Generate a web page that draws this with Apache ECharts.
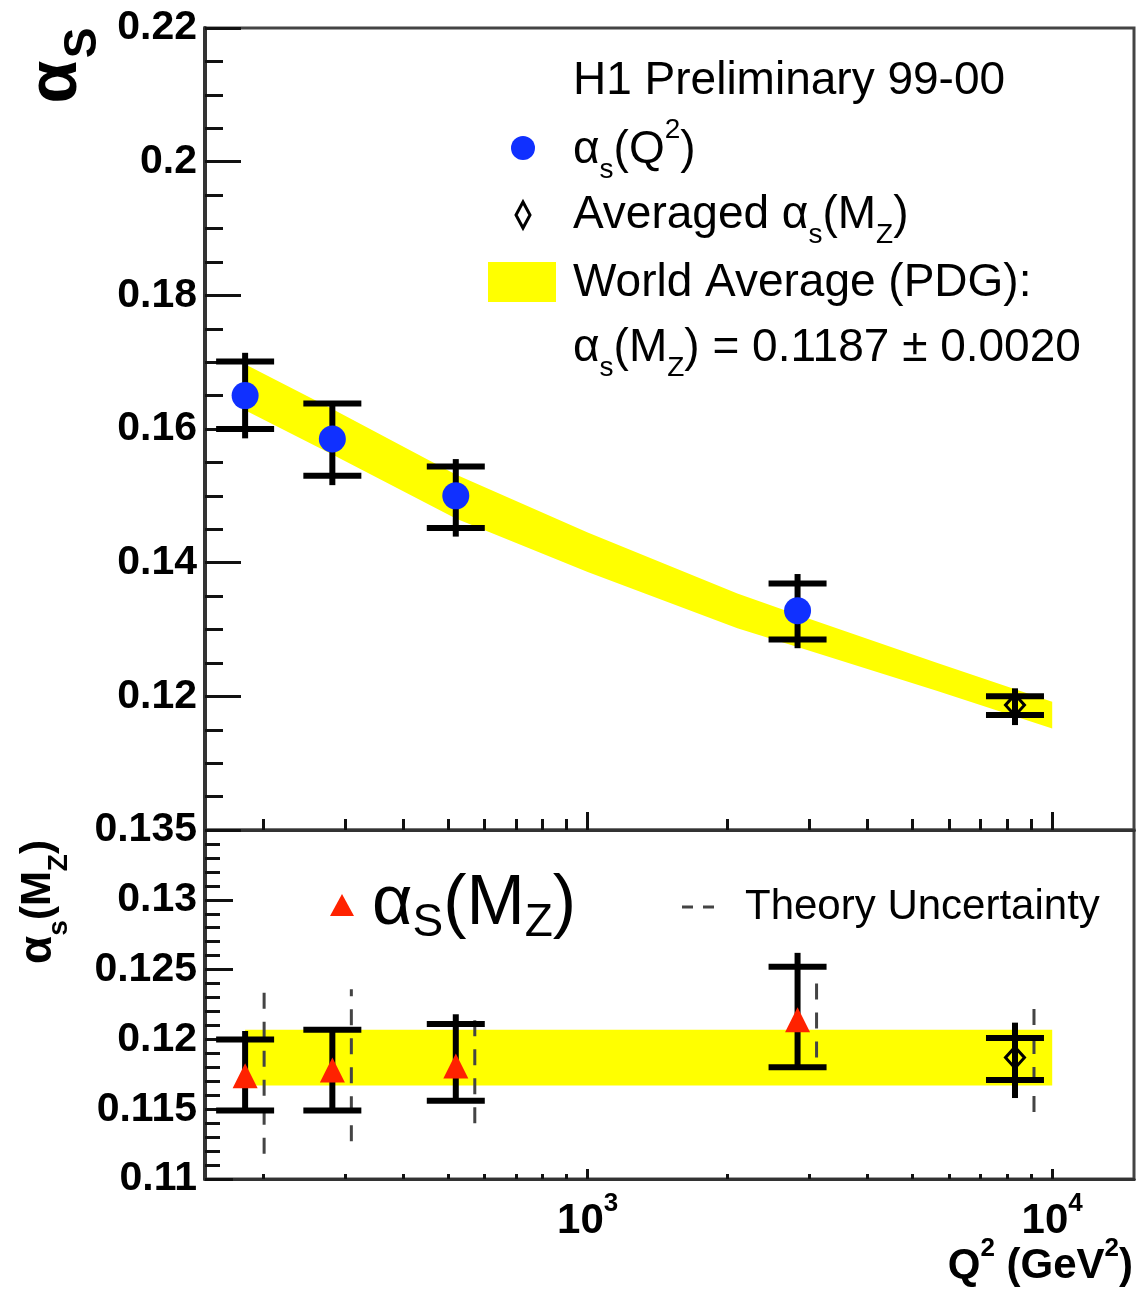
<!DOCTYPE html>
<html><head><meta charset="utf-8">
<script src="https://cdn.jsdelivr.net/npm/echarts@6/dist/echarts.min.js"></script>
<style>html,body{margin:0;padding:0;background:#fff}#c{width:1145px;height:1292px}</style>
</head><body><div id="c"></div>
<script>
// ---------- data ----------
const Q2_MEAS = [183, 282, 520, 2830];          // GeV^2
const Q2_AVG = [8315];
// top panel: alpha_s(Q^2)
const ALPHA_Q2          = [0.1650, 0.1585, 0.1500, 0.1328];
const ALPHA_Q2_INNER_LO = [0.1600, 0.1530, 0.1452, 0.1285];
const ALPHA_Q2_INNER_HI = [0.1701, 0.1638, 0.1544, 0.1369];
const ALPHA_Q2_TOTAL_LO = [0.1586, 0.1516, 0.1439, 0.1272];
const ALPHA_Q2_TOTAL_HI = [0.1714, 0.1638, 0.1555, 0.1383];
// top panel: averaged alpha_s(M_Z) at M_Z^2
const AVG_TOP          = [0.1187];
const AVG_TOP_INNER_LO = [0.1172];
const AVG_TOP_INNER_HI = [0.1200];
const AVG_TOP_TOTAL_LO = [0.1157];
const AVG_TOP_TOTAL_HI = [0.1212];
// top panel: world average running band
const BAND_Q2 = [183, 282, 520, 1000, 2100, 2830, 5660, 10000];
const BAND_HI = [0.1697, 0.1630, 0.1532, 0.1445, 0.1354, 0.1322, 0.1250, 0.1192];
const BAND_LO = [0.1628, 0.1562, 0.1466, 0.1386, 0.1302, 0.1274, 0.1208, 0.1152];
// bottom panel: alpha_s(M_Z)
const ALPHA_MZ          = [0.1174, 0.1178, 0.1181, 0.1214];
const ALPHA_MZ_INNER_LO = [0.1149, 0.1149, 0.1156, 0.1180];
const ALPHA_MZ_INNER_HI = [0.1200, 0.1207, 0.1211, 0.1252];
const ALPHA_MZ_TOTAL_LO = [0.1149, 0.1149, 0.1156, 0.1180];
const ALPHA_MZ_TOTAL_HI = [0.1206, 0.1207, 0.1218, 0.1262];
const THEORY_LO = [0.1118, 0.1127, 0.1140, 0.1187];
const THEORY_HI = [0.1236, 0.1236, 0.1222, 0.1245];
// bottom panel: averaged
const AVG_MZ          = [0.1187];
const AVG_MZ_INNER_LO = [0.1171];
const AVG_MZ_INNER_HI = [0.1201];
const AVG_MZ_TOTAL_LO = [0.1158];
const AVG_MZ_TOTAL_HI = [0.1212];
const AVG_THEORY_LO = [0.1148];
const AVG_THEORY_HI = [0.1227];
// bottom panel: world average band
const WORLD_Q2 = [183, 10000];
const WORLD_LO = [0.1167, 0.1167];
const WORLD_HI = [0.1207, 0.1207];
// axes
const X_RANGE = [150, 15000];
const X_MAJOR = [1000, 10000];
const X_MINOR = [200, 300, 400, 500, 600, 700, 800, 900, 2000, 3000, 4000, 5000, 6000, 7000, 8000, 9000];
const Y_TOP = {min: 0.10, max: 0.22, step: 0.02};
const Y_BOT = {min: 0.11, max: 0.135, step: 0.005};

// ---------- helpers ----------
const L = Math.log10;
const FONT = 'Liberation Sans';
const rows = (xs, ...cols) => xs.map((x, i) => [L(x), ...cols.map(c => c[i])]);

function errorBarItem(params, api) {
  const x = api.value(0);
  const tl = api.coord([x, api.value(2)]), th = api.coord([x, api.value(3)]);
  const il = api.coord([x, api.value(4)]), ih = api.coord([x, api.value(5)]);
  const hw = 29, st = {stroke: '#000', lineWidth: 6};
  return {type: 'group', children: [
    {type: 'line', shape: {x1: tl[0], y1: tl[1], x2: th[0], y2: th[1]}, style: st},
    {type: 'line', shape: {x1: il[0] - hw, y1: il[1], x2: il[0] + hw, y2: il[1]}, style: st},
    {type: 'line', shape: {x1: ih[0] - hw, y1: ih[1], x2: ih[0] + hw, y2: ih[1]}, style: st}
  ]};
}
function theoryItem(params, api) {
  const x = api.value(0);
  const lo = api.coord([x, api.value(1)]), hi = api.coord([x, api.value(2)]);
  const dx = 19;
  return {type: 'line', shape: {x1: lo[0] + dx, y1: lo[1], x2: hi[0] + dx, y2: hi[1]},
    style: {stroke: '#444', lineWidth: 3, lineDash: [16, 13]}};
}
// band polygon: drawn once, from the band arrays through the axes
function bandRenderer(qs, lo, hi) {
  return function (params, api) {
    if (params.dataIndex !== 0) return null;
    const up = qs.map((q, i) => api.coord([L(q), hi[i]]));
    const dn = qs.map((q, i) => api.coord([L(q), lo[i]])).reverse();
    return {type: 'polygon', shape: {points: up.concat(dn)}, style: {fill: '#ffff00', stroke: 'none'}};
  };
}
const tickStyle = {color: '#111', width: 3};
function xAxisDef(grid, values, len, labels) {
  return {
    gridIndex: grid, type: 'value', position: 'bottom', offset: 0,
    min: L(X_RANGE[0]), max: L(X_RANGE[1]),
    axisLine: {show: true, onZero: false, lineStyle: {color: '#333', width: 3}},
    axisTick: {show: true, inside: true, length: len, customValues: values.map(L), lineStyle: tickStyle},
    splitLine: {show: false},
    axisLabel: labels ? {
      show: true, margin: 12, customValues: X_MAJOR.map(L),
      formatter: v => '{b|10}{s|' + Math.round(v) + '}',
      rich: {
        b: {fontFamily: FONT, fontWeight: 'bold', fontSize: 42, lineHeight: 60, color: '#000'},
        s: {fontFamily: FONT, fontWeight: 'bold', fontSize: 26, lineHeight: 26, verticalAlign: 'top', color: '#000'}
      }
    } : {show: false}
  };
}
function yAxisDef(grid, r, majLen, minLen, minorSplit, hideMin) {
  return {
    gridIndex: grid, type: 'value', min: r.min, max: r.max, interval: r.step,
    axisLine: {show: true, onZero: false, lineStyle: {color: '#333', width: 4}},
    axisTick: {show: true, inside: true, length: majLen, lineStyle: tickStyle},
    minorTick: {show: true, splitNumber: minorSplit, length: minLen, lineStyle: tickStyle},
    splitLine: {show: false}, minorSplitLine: {show: false},
    axisLabel: {show: true, margin: 8, fontFamily: FONT, fontWeight: 'bold', fontSize: 41, color: '#000',
      showMinLabel: !hideMin,
      formatter: v => String(+v.toFixed(4))}
  };
}

const chart = echarts.init(document.getElementById('c'), null, {renderer: 'canvas'});

const txt = (x, y, rich, text, extra) => Object.assign({
  type: 'text', x: x, y: y,
  style: {text: text, rich: rich, fill: '#000', font: '46px "' + FONT + '"', align: 'left', verticalAlign: 'middle'}
}, extra || {});

const legRich = {
  n: {fontFamily: FONT, fontSize: 46, lineHeight: 68, color: '#000'},
  sub: {fontFamily: FONT, fontSize: 28, lineHeight: 28, verticalAlign: 'bottom', color: '#000'},
  sup: {fontFamily: FONT, fontSize: 28, lineHeight: 28, verticalAlign: 'top', color: '#000'}
};
const bigRich = {
  n: {fontFamily: FONT, fontSize: 70, lineHeight: 82, color: '#000'},
  sub: {fontFamily: FONT, fontSize: 46, lineHeight: 46, verticalAlign: 'bottom', color: '#000'}
};
const yRich = {
  a: {fontFamily: FONT, fontWeight: 'bold', fontSize: 46, lineHeight: 70, color: '#000'},
  n: {fontFamily: FONT, fontWeight: 'bold', fontSize: 42, lineHeight: 70, color: '#000'},
  sub: {fontFamily: FONT, fontWeight: 'bold', fontSize: 28, lineHeight: 28, verticalAlign: 'bottom', color: '#000'}
};
const xRich = {
  b: {fontFamily: FONT, fontWeight: 'bold', fontSize: 42, lineHeight: 60, color: '#000'},
  s: {fontFamily: FONT, fontWeight: 'bold', fontSize: 26, lineHeight: 26, verticalAlign: 'top', color: '#000'}
};

const option = {
  animation: false,
  backgroundColor: '#fff',
  grid: [
    {left: 205, right: 11, top: 28, height: 802, show: true, borderColor: '#444', borderWidth: 3, containLabel: false},
    {left: 205, right: 11, top: 830, height: 349, show: true, borderColor: '#444', borderWidth: 3, containLabel: false}
  ],
  xAxis: [
    xAxisDef(0, X_MAJOR, 18, false),
    xAxisDef(0, X_MINOR, 11, false),
    xAxisDef(1, X_MAJOR, 10, true),
    xAxisDef(1, X_MINOR, 5, false)
  ],
  yAxis: [
    yAxisDef(0, Y_TOP, 36, 18, 4, true),
    yAxisDef(1, Y_BOT, 28, 15, 5, false)
  ],
  series: [
    // world average bands
    {type: 'custom', xAxisIndex: 0, yAxisIndex: 0, z: 1, silent: true, encode: {x: 0, y: 1},
      renderItem: bandRenderer(BAND_Q2, BAND_LO, BAND_HI), data: rows(BAND_Q2, BAND_LO, BAND_HI)},
    {type: 'custom', xAxisIndex: 2, yAxisIndex: 1, z: 1, silent: true, encode: {x: 0, y: 1},
      renderItem: bandRenderer(WORLD_Q2, WORLD_LO, WORLD_HI), data: rows(WORLD_Q2, WORLD_LO, WORLD_HI)},
    // theory uncertainty (dashed)
    {type: 'custom', xAxisIndex: 2, yAxisIndex: 1, z: 2, renderItem: theoryItem, encode: {x: 0, y: 1},
      data: rows(Q2_MEAS.concat(Q2_AVG), THEORY_LO.concat(AVG_THEORY_LO), THEORY_HI.concat(AVG_THEORY_HI))},
    // error bars top
    {type: 'custom', xAxisIndex: 0, yAxisIndex: 0, z: 3, renderItem: errorBarItem, encode: {x: 0, y: 1},
      data: rows(Q2_MEAS.concat(Q2_AVG), ALPHA_Q2.concat(AVG_TOP),
        ALPHA_Q2_TOTAL_LO.concat(AVG_TOP_TOTAL_LO), ALPHA_Q2_TOTAL_HI.concat(AVG_TOP_TOTAL_HI),
        ALPHA_Q2_INNER_LO.concat(AVG_TOP_INNER_LO), ALPHA_Q2_INNER_HI.concat(AVG_TOP_INNER_HI))},
    // error bars bottom
    {type: 'custom', xAxisIndex: 2, yAxisIndex: 1, z: 3, renderItem: errorBarItem, encode: {x: 0, y: 1},
      data: rows(Q2_MEAS.concat(Q2_AVG), ALPHA_MZ.concat(AVG_MZ),
        ALPHA_MZ_TOTAL_LO.concat(AVG_MZ_TOTAL_LO), ALPHA_MZ_TOTAL_HI.concat(AVG_MZ_TOTAL_HI),
        ALPHA_MZ_INNER_LO.concat(AVG_MZ_INNER_LO), ALPHA_MZ_INNER_HI.concat(AVG_MZ_INNER_HI))},
    // markers
    {type: 'scatter', xAxisIndex: 0, yAxisIndex: 0, z: 4, symbol: 'circle', symbolSize: 27,
      itemStyle: {color: '#1030ff', opacity: 1}, data: rows(Q2_MEAS, ALPHA_Q2)},
    {type: 'scatter', xAxisIndex: 0, yAxisIndex: 0, z: 4, symbol: 'diamond', symbolSize: [19, 21],
      itemStyle: {color: 'rgba(0,0,0,0)', borderColor: '#000', borderWidth: 3, opacity: 1}, data: rows(Q2_AVG, AVG_TOP)},
    {type: 'scatter', xAxisIndex: 2, yAxisIndex: 1, z: 4, symbol: 'triangle', symbolSize: [25, 25],
      itemStyle: {color: '#ff2200', opacity: 1}, data: rows(Q2_MEAS, ALPHA_MZ)},
    {type: 'scatter', xAxisIndex: 2, yAxisIndex: 1, z: 4, symbol: 'diamond', symbolSize: [19, 21],
      itemStyle: {color: 'rgba(0,0,0,0)', borderColor: '#000', borderWidth: 3, opacity: 1}, data: rows(Q2_AVG, AVG_MZ)}
  ],
  graphic: [
    // y title top: alpha_S
    {type: 'text', x: 57, y: 82, rotation: Math.PI / 2,
      style: {text: 'α', font: 'bold 70px "' + FONT + '"', fill: '#000', align: 'center', verticalAlign: 'middle'}},
    {type: 'text', x: 83, y: 43, rotation: Math.PI / 2,
      style: {text: 'S', font: 'bold 46px "' + FONT + '"', fill: '#000', align: 'center', verticalAlign: 'middle'}},
    // y title bottom: alpha_s(M_Z)
    {type: 'text', x: 38, y: 902, rotation: Math.PI / 2,
      style: {text: '{a|α}{sub|s}{n|(M}{sub|Z}{n|)}', rich: yRich, fill: '#000', align: 'center', verticalAlign: 'middle'}},
    // x title
    {type: 'text', x: 1133, y: 1266,
      style: {text: '{b|Q}{s|2}{b| (GeV}{s|2}{b|)}', rich: xRich, fill: '#000', align: 'right', verticalAlign: 'middle'}},
    // legend top
    txt(573, 81, legRich, '{n|H1 Preliminary 99-00}'),
    {type: 'circle', shape: {cx: 523, cy: 148, r: 12}, style: {fill: '#1030ff'}},
    txt(573, 150, legRich, '{n|α}{sub|s}{n|(Q}{sup|2}{n|)}'),
    {type: 'polygon', shape: {points: [[523, 202], [530, 215], [523, 228], [516, 215]]},
      style: {fill: 'none', stroke: '#000', lineWidth: 3}},
    txt(573, 215, legRich, '{n|Averaged α}{sub|s}{n|(M}{sub|Z}{n|)}'),
    {type: 'rect', shape: {x: 488, y: 262, width: 68, height: 40}, style: {fill: '#ffff00'}},
    txt(573, 283, legRich, '{n|World Average (PDG):}'),
    txt(573, 348, legRich, '{n|α}{sub|s}{n|(M}{sub|Z}{n|) = 0.1187 ± 0.0020}'),
    // legend bottom
    {type: 'polygon', shape: {points: [[330, 916], [354, 916], [342, 894]]}, style: {fill: '#ff2200'}},
    txt(372, 905, bigRich, '{n|α}{sub|S}{n|(M}{sub|Z}{n|)}'),
    {type: 'line', shape: {x1: 682, y1: 907, x2: 724, y2: 907}, style: {stroke: '#444', lineWidth: 3, lineDash: [11, 10]}},
    {type: 'text', x: 745, y: 907,
      style: {text: 'Theory Uncertainty', font: '42px "' + FONT + '"', fill: '#000', align: 'left', verticalAlign: 'middle'}}
  ]
};
chart.setOption(option);
</script>
</body></html>
